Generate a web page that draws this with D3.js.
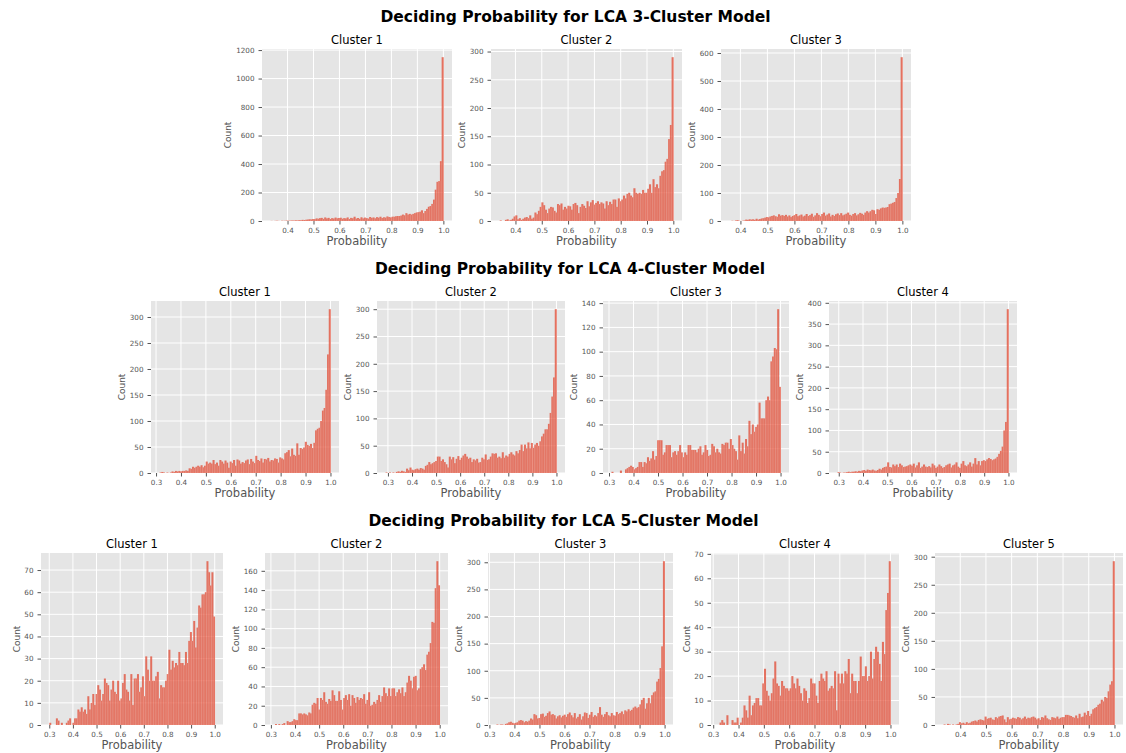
<!DOCTYPE html>
<html>
<head>
<meta charset="utf-8">
<script src="https://cdn.jsdelivr.net/npm/d3@7"></script>
<style>
  body { margin: 0; background: #fff; }
  svg { font-family: "DejaVu Sans", sans-serif; }
</style>
</head>
<body>
<script>
'use strict';

// ---- data (bin counts, 100 bins from min prob to 1.0) ----
const rowTitles = [
  'Deciding Probability for LCA 3-Cluster Model',
  'Deciding Probability for LCA 4-Cluster Model',
  'Deciding Probability for LCA 5-Cluster Model'
]
const clusterLabels = ['Cluster 1', 'Cluster 2', 'Cluster 3', 'Cluster 4', 'Cluster 5']

const lca3c1 = [1,0,1,2,1,0,2,1,2,3, 2,3,4,3,5,4,6,5,8,7, 9,10,12,11,14,13,18,16,20,22,
  15,25,18,22,14,20,17,24,19,21, 23,16,20,18,25,14,22,19,30,17, 21,15,26,18,24,20,17,28,22,25,
  19,27,23,30,21,26,24,32,28,25, 30,30,33,35,35,38,45,40,55,45, 50,45,50,55,60,62,65,75,55,70,
  85,100,105,120,150,220,275,280,420,1150]
const lca3c2 = [1,0,0,2,3,1,2,4,8,10, 3,5,2,4,6,7,5,10,4,6, 15,12,18,25,33,28,20,14,22,25,
  24,18,15,30,28,31,20,25,22,27, 26,20,30,32,28,14,25,30,27,23, 35,26,33,37,29,32,35,30,33,31,
  22,35,28,34,30,38,38,25,40,35, 38,45,40,48,50,45,42,58,50,48, 50,48,55,50,50,57,65,50,74,60,
  65,58,80,88,90,105,110,145,170,290]
const lca3c3 = [0,1,0,2,3,1,0,1,2,5, 4,6,5,6,4,8,5,7,9,10, 12,14,13,16,18,20,17,15,24,19,
  21,18,22,16,20,14,18,21,25,17, 20,23,16,19,25,18,21,26,15,20, 28,22,17,25,30,19,23,27,16,22,
  18,24,27,21,28,20,23,26,30,22, 19,25,28,20,24,29,26,22,30,35, 30,35,40,38,25,42,40,45,48,47,
  48,50,60,62,65,68,82,100,150,585]

const lca4c1 = [1,2,1,0,1,0,1,3,2,4, 3,4,3,4,4,5,4,9,8,12, 10,12,14,12,15,11,14,22,18,20,
  18,25,17,20,14,25,22,18,24,20, 10,22,19,25,14,26,24,18,21,19, 24,26,17,27,22,19,33,25,23,28,
  20,27,26,29,22,25,24,28,27,20, 30,28,26,38,40,44,32,47,35,33, 57,35,48,46,49,60,54,52,56,48,
  58,82,85,87,100,120,125,160,228,315]
const lca4c2 = [1,0,1,0,1,0,2,3,2,4, 3,2,8,5,10,6,5,7,8,6, 9,8,6,13,15,20,16,18,20,22,
  30,30,22,25,20,16,10,30,25,29, 18,26,31,24,28,32,35,30,26,28, 20,25,23,26,19,20,28,25,34,24,
  25,30,36,35,36,28,30,27,38,28, 32,30,35,38,34,32,40,36,42,52, 40,52,45,56,45,55,46,52,55,50,
  58,67,72,80,80,90,110,140,175,300]
const lca4c3 = [1,0,0,0,0,2,0,0,3,4, 5,6,5,3,4,5,9,9,5,9, 8,13,10,12,18,11,14,27,27,27,
  15,17,23,23,23,13,17,18,15,18, 23,17,13,17,15,23,23,19,19,19, 17,20,22,15,17,23,19,14,15,24,
  22,17,20,17,16,24,23,25,25,20, 28,23,20,18,11,31,18,25,16,28, 22,43,32,40,34,38,40,58,45,45,
  45,60,63,60,92,96,103,102,135,71]
const lca4c4 = [2,1,0,1,1,2,3,2,3,3, 4,3,5,4,6,7,5,8,7,6, 8,6,5,7,10,8,12,14,15,25,
  14,13,20,16,20,14,22,18,14,15, 16,18,20,17,22,13,18,25,12,15, 20,15,14,16,13,22,18,12,15,20,
  16,12,14,18,20,22,13,18,20,25, 15,12,22,28,18,16,20,25,15,22, 35,20,28,18,28,30,28,32,35,33,
  30,32,34,38,45,52,62,100,120,385]

const lca5c1 = [1,0,0,0,3,2,0,1,0,0, 1,2,3,0,1,3,3,7,6,8, 6,7,5,13,7,10,14,9,14,18,
  16,11,14,21,19,18,11,16,20,15, 14,20,11,12,19,23,16,15,11,23, 9,21,21,23,15,17,22,13,31,25,
  20,31,20,20,22,24,12,18,17,17, 20,23,34,25,29,26,28,27,33,28, 28,27,33,28,38,42,38,47,35,44,
  54,53,59,59,60,74,69,63,69,49]
const lca5c2 = [0,1,0,1,0,1,2,0,4,3, 3,4,6,5,5,12,12,11,12,11, 10,13,12,21,23,22,28,16,28,26,
  34,24,22,27,25,36,31,25,25,35, 26,16,28,31,26,32,20,31,28,23, 29,26,28,27,32,22,26,34,20,21,
  24,22,26,31,24,30,39,33,30,38, 30,38,38,30,34,37,33,39,30,34, 44,51,46,38,50,51,36,38,58,60,
  63,57,73,76,85,107,106,142,170,145]
const lca5c3 = [1,0,1,1,0,2,3,5,6,4, 3,4,5,8,9,8,5,7,6,8, 12,10,20,18,12,13,20,21,15,17,
  22,25,19,20,18,12,16,18,14,17, 19,15,20,23,18,14,22,12,15,20, 10,16,23,22,13,19,24,15,18,16,
  22,33,19,15,20,24,18,16,22,18, 17,24,20,22,25,20,27,25,29,26, 28,32,34,31,33,38,46,50,30,40,
  50,40,55,60,62,80,85,105,145,302]
const lca5c4 = [1,2,1,0,4,0,0,2,1,1, 3,0,1,3,8,6,3,12,4,8, 9,11,11,8,8,17,23,14,12,10,
  13,19,26,17,16,12,18,16,15,15, 14,15,20,17,15,19,16,13,10,15, 14,9,11,19,17,17,12,9,18,21,
  19,18,22,14,15,16,15,22,6,21, 17,21,17,22,21,27,13,21,18,18, 13,18,28,20,20,24,18,20,30,19,
  27,32,30,25,18,34,29,47,54,67]
const lca5c5 = [1,0,2,1,0,1,0,1,2,5, 3,4,2,5,3,4,6,7,8,6, 9,10,9,8,15,11,12,13,10,9,
  14,12,15,16,17,10,5,14,10,11, 13,12,11,14,13,10,12,15,11,13, 12,14,15,13,10,12,9,14,13,17,
  12,10,9,14,13,12,15,11,13,14, 14,18,18,17,16,14,13,17,12,20, 14,15,22,18,25,16,20,28,30,32,
  36,38,45,42,50,48,60,72,78,292]

const counts = [[lca3c1, lca3c2, lca3c3], [lca4c1, lca4c2, lca4c3, lca4c4],
  [lca5c1, lca5c2, lca5c3, lca5c4, lca5c5]]
// lowest probability seen per cluster (left edge of the first bin)
const minProb = [[0.335, 0.34, 0.36], [0.314, 0.29, 0.31, 0.295], [0.30, 0.31, 0.328, 0.325, 0.335]]
const yStep = [[200, 50, 100], [50, 50, 20, 50], [10, 20, 50, 10, 50]]
const xTicksFrom4 = [0.4, 0.5, 0.6, 0.7, 0.8, 0.9, 1.0]
const xTicksFrom3 = [0.3, 0.4, 0.5, 0.6, 0.7, 0.8, 0.9, 1.0]
const xTicks = [[xTicksFrom4, xTicksFrom4, xTicksFrom4], [xTicksFrom3, xTicksFrom3, xTicksFrom3, xTicksFrom3],
  [xTicksFrom3, xTicksFrom3, xTicksFrom3, xTicksFrom3, xTicksFrom4]]

// ---- layout ----
const W = 1126, H = 753
const rows = [
  {titleX: 575.5, titleY: 22, top: 49, bottom: 221, boxes: [[262, 452], [491, 682], [721, 911]]},
  {titleX: 570, titleY: 274, top: 301, bottom: 473, boxes: [[151, 339], [377, 565], [603, 789], [829, 1017]]},
  {titleX: 563.5, titleY: 526, top: 553, bottom: 725, boxes: [[41, 223], [265, 448], [488, 673], [711, 899], [935, 1123]]}
]

const svg = d3.select('body').append('svg')
  .attr('width', W)
  .attr('height', H)

rows.forEach((row, r) => {
  svg.append('text')
    .attr('x', row.titleX)
    .attr('y', row.titleY)
    .attr('text-anchor', 'middle')
    .style('font-size', '15.5px')
    .style('font-weight', 'bold')
    .text(rowTitles[r])

  row.boxes.forEach((box, c) => {
    drawPanel(row, box, counts[r][c], minProb[r][c], yStep[r][c], xTicks[r][c], clusterLabels[c])
  })
})

function drawPanel(row, box, vals, pMin, step, xt, label) {
  const g = svg.append('g')
  const pad = 0.05 * (1 - pMin)
  const x = d3.scaleLinear().domain([pMin - pad, 1 + pad]).range([box[0], box[1]])
  const yMax = d3.max(vals) * 1.05
  const y = d3.scaleLinear().domain([0, yMax]).range([row.bottom, row.top])
  const bw = (1 - pMin) / vals.length
  const yt = d3.range(0, yMax, step)

  g.append('rect')
    .attr('x', box[0])
    .attr('y', row.top)
    .attr('width', box[1] - box[0])
    .attr('height', row.bottom - row.top)
    .attr('fill', '#E5E5E5')

  g.selectAll('.vgrid').data(xt).enter().append('line')
    .attr('x1', d => x(d)).attr('x2', d => x(d))
    .attr('y1', row.top).attr('y2', row.bottom)
    .attr('stroke', '#fff').attr('stroke-width', 1)
  g.selectAll('.hgrid').data(yt).enter().append('line')
    .attr('x1', box[0]).attr('x2', box[1])
    .attr('y1', d => y(d)).attr('y2', d => y(d))
    .attr('stroke', '#fff').attr('stroke-width', 1)

  // bars overlap a hair so antialiasing does not leave white seams; group alpha
  const bars = g.append('g').attr('opacity', 0.75)
  bars.selectAll('rect').data(vals).enter().append('rect')
    .attr('x', (d, i) => x(pMin + i * bw))
    .attr('width', (d, i) => x(pMin + (i + 1) * bw) - x(pMin + i * bw) + 0.35)
    .attr('y', d => y(d))
    .attr('height', d => y(0) - y(d))
    .attr('fill', '#E24A33')
  // faint light bin edges
  bars.selectAll('line').data(vals.slice(1)).enter().append('line')
    .attr('x1', (d, i) => x(pMin + (i + 1) * bw)).attr('x2', (d, i) => x(pMin + (i + 1) * bw))
    .attr('y1', (d, i) => y(Math.min(d, vals[i]))).attr('y2', y(0))
    .attr('stroke', '#F2B8AC')
    .attr('stroke-width', 0.25)

  const xAxis = g.append('g')
    .attr('transform', 'translate(0,' + row.bottom + ')')
    .call(d3.axisBottom(x).tickValues(xt).tickFormat(d3.format('.1f')).tickSize(3.5).tickPadding(3))
  const yAxis = g.append('g')
    .attr('transform', 'translate(' + box[0] + ',0)')
    .call(d3.axisLeft(y).tickValues(yt).tickFormat(d3.format('d')).tickSize(3.5).tickPadding(4))
  ;[xAxis, yAxis].forEach(a => {
    a.select('.domain').remove()
    a.attr('font-family', null).attr('font-size', null)
    a.selectAll('line').attr('stroke', '#555')
    a.selectAll('text').attr('fill', '#555').style('font-size', '7.2px')
  })

  g.append('text')
    .attr('x', (box[0] + box[1]) / 2)
    .attr('y', row.top - 5.5)
    .attr('text-anchor', 'middle')
    .style('font-size', '11.5px')
    .attr('fill', '#000')
    .text(label)

  g.append('text')
    .attr('x', (box[0] + box[1]) / 2)
    .attr('y', row.bottom + 24)
    .attr('text-anchor', 'middle')
    .style('font-size', '11.5px')
    .attr('fill', '#555')
    .text('Probability')

  // the axis bbox is in the axis group's own coordinates
  const bb = yAxis.node().getBBox()
  const cx = box[0] + bb.x - 8
  const cy = (row.top + row.bottom) / 2
  g.append('text')
    .attr('transform', 'translate(' + cx + ',' + cy + ')rotate(-90)')
    .attr('dy', '0.35em')
    .attr('text-anchor', 'middle')
    .style('font-size', '9px')
    .attr('fill', '#555')
    .text('Count')
}
</script>
</body>
</html>
